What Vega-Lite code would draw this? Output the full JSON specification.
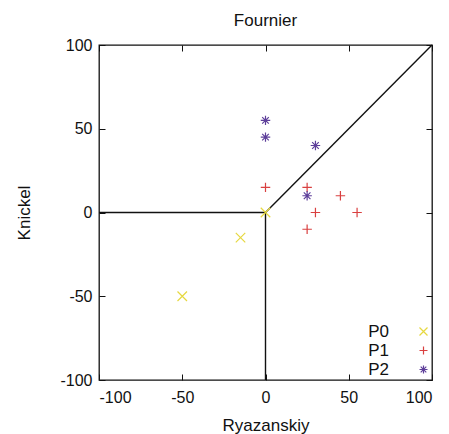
{
  "$schema": "https://vega.github.io/schema/vega-lite/v6.json",
  "width": 333,
  "height": 335,
  "autosize": {"type": "none"},
  "padding": {"left": 99, "top": 45, "right": 17, "bottom": 54},
  "background": "white",
  "config": {
    "font": "Liberation Sans",
    "view": {"stroke": "#111111", "strokeWidth": 1.3},
    "axis": {"grid": false, "domain": false, "tickColor": "#111111", "tickSize": -6, "tickWidth": 1, "labelFont": "Liberation Sans", "labelFontSize": 16, "labelColor": "#111111", "titleFont": "Liberation Sans", "titleFontSize": 17, "titleFontWeight": "normal", "titleColor": "#111111", "labelExpr": "'' + datum.value"},
    "title": {"font": "Liberation Sans", "fontSize": 17, "fontWeight": "normal", "color": "#111111"}
  },
  "title": {"text": "Fournier", "offset": 7},
  "datasets": {
    "lines": [
      {"seg": "diag", "x": 0, "y": 0},
      {"seg": "diag", "x": 100, "y": 100},
      {"seg": "h", "x": -100, "y": 0},
      {"seg": "h", "x": 0, "y": 0},
      {"seg": "v", "x": 0, "y": -100},
      {"seg": "v", "x": 0, "y": 0}
    ],
    "points": [
      {"series": "P0", "x": 0, "y": 0},
      {"series": "P0", "x": -15, "y": -15},
      {"series": "P0", "x": -50, "y": -50},
      {"series": "P1", "x": 0, "y": 15},
      {"series": "P1", "x": 25, "y": 15},
      {"series": "P1", "x": 30, "y": 0},
      {"series": "P1", "x": 45, "y": 10},
      {"series": "P1", "x": 55, "y": 0},
      {"series": "P1", "x": 25, "y": -10},
      {"series": "P2", "x": 0, "y": 55},
      {"series": "P2", "x": 0, "y": 45},
      {"series": "P2", "x": 30, "y": 40},
      {"series": "P2", "x": 25, "y": 10}
    ]
  },
  "layer": [
    {
      "data": {"name": "lines"},
      "mark": {"type": "line", "color": "#111111", "strokeWidth": 1.4},
      "encoding": {
        "x": {"field": "x", "type": "quantitative", "scale": {"domain": [-100, 100], "nice": false, "zero": false}, "axis": {"orient": "bottom", "values": [-100, -50, 0, 50, 100], "title": "Ryazanskiy", "labelPadding": 15, "titlePadding": 12}},
        "y": {"field": "y", "type": "quantitative", "scale": {"domain": [-100, 100], "nice": false, "zero": false}, "axis": {"orient": "left", "values": [-100, -50, 0, 50, 100], "title": "Knickel", "labelPadding": 13, "titlePadding": 26}},
        "detail": {"field": "seg"}
      }
    },
    {
      "data": {"name": "points"},
      "mark": {"type": "point", "filled": false, "size": 90, "strokeWidth": 1.2, "opacity": 1},
      "encoding": {
        "x": {"field": "x", "type": "quantitative", "scale": {"domain": [-100, 100], "nice": false, "zero": false}, "axis": {"orient": "top", "values": [-100, -50, 0, 50, 100], "labels": false, "title": null}},
        "y": {"field": "y", "type": "quantitative", "scale": {"domain": [-100, 100], "nice": false, "zero": false}, "axis": {"orient": "right", "values": [-100, -50, 0, 50, 100], "labels": false, "title": null}},
        "color": {"field": "series", "type": "nominal", "scale": {"domain": ["P0", "P1", "P2"], "range": ["#e6d840", "#d94040", "#5e3f9a"]}, "legend": {"orient": "none", "legendX": 316, "legendY": 278, "title": null, "padding": 0, "labelAlign": "right", "labelOffset": -43, "labelFontSize": 17, "labelColor": "#111111", "rowPadding": 1, "symbolSize": 64, "symbolStrokeWidth": 1.2}},
        "shape": {"field": "series", "type": "nominal", "scale": {"domain": ["P0", "P1", "P2"], "range": ["M-1,-1L1,1M-1,1L1,-1", "M-1,0H1M0,-1V1", "M-1,0H1M0,-1V1M-0.7,-0.7L0.7,0.7M-0.7,0.7L0.7,-0.7"]}}
      }
    }
  ],
  "resolve": {"axis": {"x": "independent", "y": "independent"}}
}
